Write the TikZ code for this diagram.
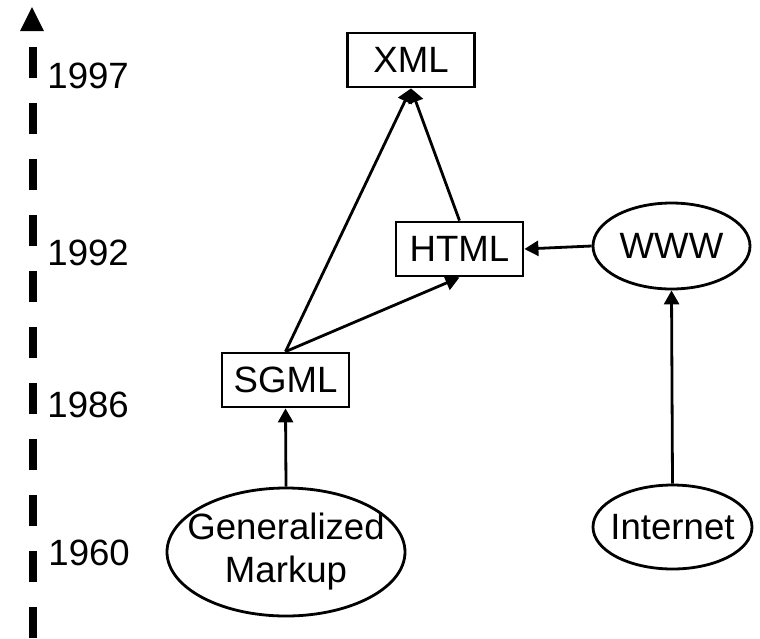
\documentclass[tikz,border=0pt]{standalone}
\usepackage{fontspec}
\setmainfont{Liberation Sans}
\usetikzlibrary{arrows.meta,shapes.geometric}
\begin{document}
\begin{tikzpicture}[x=0.5pt,y=-0.5pt,
  every node/.style={font=\fontsize{18.3}{21.5}\selectfont},
  box/.style={draw,line width=1.4pt,rectangle,minimum width=63.5pt,minimum height=27pt,inner sep=0pt},
  oval/.style={draw,line width=1.4pt,ellipse,inner sep=0pt},
  ovaltext/.style={label={[align=center,inner sep=0pt]center:#1}},
  conn/.style={line width=1.4pt,-{Triangle[length=7pt,width=7.5pt]}},
  year/.style={anchor=west,inner sep=0pt}]
\useasboundingbox (0,0) rectangle (760,638);
% timeline axis
\draw[line width=4pt,dash pattern=on 15.5pt off 12.5pt] (32.5,47) -- (32.5,638);
\fill (20,31) -- (44,31) -- (32,7) -- cycle;
\node[year] (y1997) at (47,76) {1997};
\node[year] (y1992) at (47,253) {1992};
\node[year] (y1986) at (47,405) {1986};
\node[year] (y1960) at (48,553) {1960};
% nodes
\node[box] (xml) at (411,60) {XML};
\node[box] (html) at (459.5,249) {HTML};
\node[box] (sgml) at (285.5,380) {SGML};
\node[oval,minimum width=78.5pt,minimum height=43pt,ovaltext={WWW}] (www) at (671.5,246) {};
\node[oval,minimum width=119pt,minimum height=64pt,ovaltext={Generalized\\Markup}] (gm) at (286,552) {};
\node[oval,minimum width=79.5pt,minimum height=42pt,ovaltext={Internet}] (inet) at (672.5,527) {};
% connectors
\draw[conn] (gm.north) -- (sgml.south);
\draw[conn] (sgml.north) -- (xml.south);
\draw[conn] (sgml.north) -- (html.south);
\draw[conn] (html.north) -- (xml.south);
\draw[conn] (www.west) -- (html.east);
\draw[conn] (inet.north) -- (www.south);
\end{tikzpicture}
\end{document}
